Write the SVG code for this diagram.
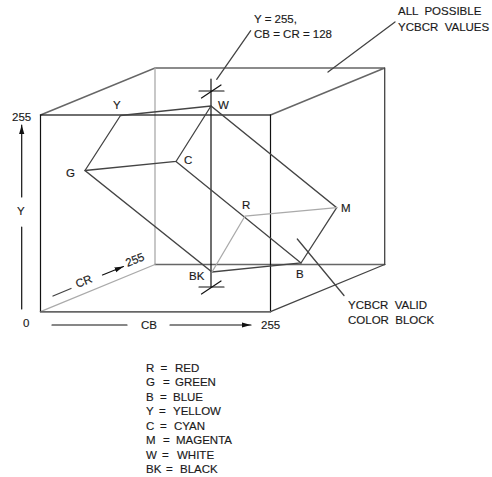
<svg xmlns="http://www.w3.org/2000/svg" width="492" height="477" viewBox="0 0 492 477">
<style>
text{font-family:"Liberation Sans",Arial,sans-serif;font-size:11.5px;fill:#1a1a1a;stroke:#1a1a1a;stroke-width:.15;white-space:pre}
line,polyline{fill:none;stroke-linecap:round}
.k{stroke:#111;stroke-width:1.2}
.d{stroke:#444;stroke-width:1.3}
.g{stroke:#666;stroke-width:1.5}
.l{stroke:#aaa;stroke-width:1.3}
</style>
<defs><marker id="a" markerUnits="userSpaceOnUse" markerWidth="9" markerHeight="6" refX="9" refY="3" orient="auto"><path d="M0 0.4L9 3L0 5.600z" fill="#111"/></marker></defs>
<rect width="492" height="477" fill="#fff"/>
<g id="connectors">
<polyline class="g" points="40.5,115 155,68 384.700,68 270.500,115"/>
<line class="l" x1="155" y1="68" x2="155" y2="264.500"/>
<line class="g" x1="155" y1="264.500" x2="384.700" y2="264.500"/>
<line class="l" x1="40.500" y1="311.700" x2="155" y2="264.500"/>
<line class="d" x1="384.700" y1="68" x2="384.700" y2="264.500"/>
<line class="d" x1="384.700" y1="264.500" x2="270.500" y2="311.700"/>
<rect x="40.500" y="115" width="230" height="196.700" fill="none" stroke="#111" stroke-width="1.2"/>
<line class="g" x1="40.500" y1="311.700" x2="270.500" y2="311.700"/>
<line class="k" x1="211" y1="79" x2="211" y2="287"/>
<line class="k" x1="199" y1="91" x2="224" y2="91"/>
<line class="k" x1="201.500" y1="98" x2="221" y2="85"/>
<line class="k" x1="199" y1="287" x2="224" y2="287"/>
<line class="k" x1="201.500" y1="294" x2="221" y2="281"/>
<polyline class="d" points="120.500,115.500 211,106 336.700,207.700 301,263 212,272 85,170.500 120.500,115.500"/>
<polyline class="d" points="85,170.500 176,161.500 211,106"/>
<polyline class="d" points="176,161.500 301,263"/>
<polyline class="l" points="212,272 245,216 336.700,207.700"/>
<line class="d" x1="216.700" y1="79.300" x2="250.700" y2="30.700"/>
<line class="d" x1="328" y1="72" x2="395" y2="22"/>
<line class="d" x1="297.300" y1="239" x2="344" y2="295.500"/>
<line class="k" x1="21.700" y1="309" x2="21.700" y2="227"/>
<line class="k" x1="21.700" y1="197" x2="21.700" y2="125" marker-end="url(#a)"/>
<line class="k" x1="52" y1="325" x2="127" y2="325"/>
<line class="k" x1="170" y1="325" x2="251" y2="325" marker-end="url(#a)"/>
<line class="d" x1="53" y1="296" x2="71" y2="288.500"/>
<line class="k" x1="102.500" y1="275" x2="123.500" y2="266.500" marker-end="url(#a)"/>
</g>
<g id="node-W"><text x="218" y="109">W</text></g>
<g id="node-Y"><text x="113" y="109">Y</text></g>
<g id="node-G"><text x="66" y="177">G</text></g>
<g id="node-C"><text x="184" y="164">C</text></g>
<g id="node-R"><text x="242" y="209">R</text></g>
<g id="node-M"><text x="341" y="212">M</text></g>
<g id="node-B"><text x="296" y="278">B</text></g>
<g id="node-BK"><text x="189" y="280">BK</text></g>
<g id="axis-labels">
<text x="12" y="121">255</text>
<text x="17" y="215">Y</text>
<text x="23" y="327">0</text>
<text x="141" y="329">CB</text>
<text x="261" y="329">255</text>
<text transform="translate(77.500 288) rotate(-22)">CR</text>
<text transform="translate(127.500 267) rotate(-22)">255</text>
</g>
<g id="callouts">
<text x="254" y="23">Y = 255,</text>
<text x="254" y="38">CB = CR = 128</text>
<text x="398" y="15">ALL  POSSIBLE</text>
<text x="398" y="31">YCBCR  VALUES</text>
<text x="348" y="309">YCBCR  VALID</text>
<text x="348" y="324">COLOR  BLOCK</text>
</g>
<g id="legend">
<text y="372"><tspan x="146">R</tspan><tspan x="160.500">=</tspan><tspan x="175">RED</tspan></text>
<text y="386"><tspan x="146">G</tspan><tspan x="163">=</tspan><tspan x="175">GREEN</tspan></text>
<text y="401"><tspan x="146">B</tspan><tspan x="160">=</tspan><tspan x="173">BLUE</tspan></text>
<text y="415"><tspan x="146">Y</tspan><tspan x="159">=</tspan><tspan x="173">YELLOW</tspan></text>
<text y="430"><tspan x="146">C</tspan><tspan x="160">=</tspan><tspan x="174">CYAN</tspan></text>
<text y="444"><tspan x="146">M</tspan><tspan x="163">=</tspan><tspan x="176">MAGENTA</tspan></text>
<text y="459"><tspan x="146">W</tspan><tspan x="162">=</tspan><tspan x="177">WHITE</tspan></text>
<text y="473"><tspan x="146">BK</tspan><tspan x="166">=</tspan><tspan x="180">BLACK</tspan></text>
</g>
</svg>
